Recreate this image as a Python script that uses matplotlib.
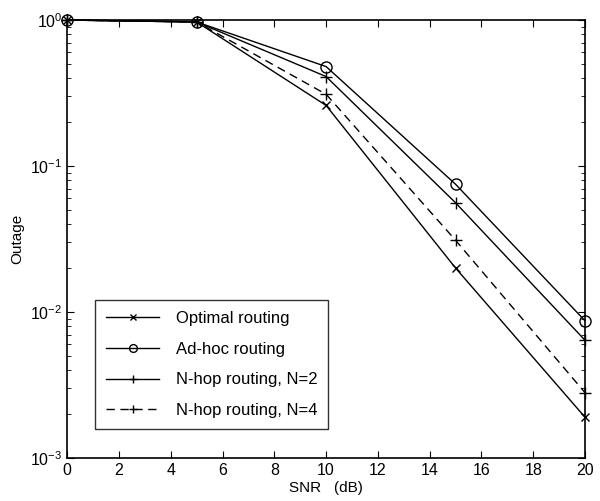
import matplotlib
matplotlib.use("Agg")
import matplotlib.pyplot as plt
from matplotlib.ticker import LogLocator

plt.rcParams['font.family'] = ['Liberation Sans', 'DejaVu Sans']
plt.rcParams['axes.unicode_minus'] = False

snr = [0, 5, 10, 15, 20]
optimal = [1.0, 0.97, 0.26, 0.020, 0.0019]
adhoc = [1.0, 0.97, 0.48, 0.075, 0.0087]
nhop2 = [1.0, 0.97, 0.41, 0.056, 0.0064]
nhop4 = [1.0, 0.97, 0.31, 0.031, 0.0028]

fig = plt.figure(figsize=(6.0, 5.01), dpi=100)
ax = fig.add_axes([0.112, 0.086, 0.863, 0.874])

kw = dict(color='black', lw=1, clip_on=False, zorder=3)
ax.plot(snr, optimal, '-', marker='x', ms=6, mew=1, label='Optimal routing', **kw)
ax.plot(snr, adhoc, '-', marker='o', ms=8, mfc='none', mew=1, label='Ad-hoc routing', **kw)
ax.plot(snr, nhop2, '-', marker='+', ms=9, mew=1, label='N-hop routing, N=2', **kw)
ax.plot(snr, nhop4, '--', marker='+', ms=9, mew=1, dashes=(6, 4), label='N-hop routing, N=4', **kw)

ax.set_yscale('log')
ax.set_xlim(0, 20)
ax.set_ylim(1e-3, 1)
ax.set_xticks(range(0, 21, 2))
ax.yaxis.set_major_locator(LogLocator(base=10, numticks=10))
ax.yaxis.set_minor_locator(LogLocator(base=10, subs=range(2, 10), numticks=20))
ax.tick_params(which='both', direction='in', top=True, right=True, labelsize=11.5)
ax.tick_params(which='major', length=5)
ax.tick_params(which='minor', length=3)
for s in ax.spines.values():
    s.set_linewidth(1.2)

ax.set_xlabel('SNR   (dB)', fontsize=11, labelpad=2)
ax.set_ylabel('Outage', fontsize=11)

leg = ax.legend(loc='lower left', bbox_to_anchor=(0.054, 0.066), fontsize=12,
                frameon=True, fancybox=False, edgecolor='black', handlelength=3.2,
                handletextpad=1.0, labelspacing=0.95, borderpad=0.65, markerscale=0.7,
                borderaxespad=0)
leg.get_frame().set_linewidth(1.0)

fig.savefig('out.png', dpi=100)
